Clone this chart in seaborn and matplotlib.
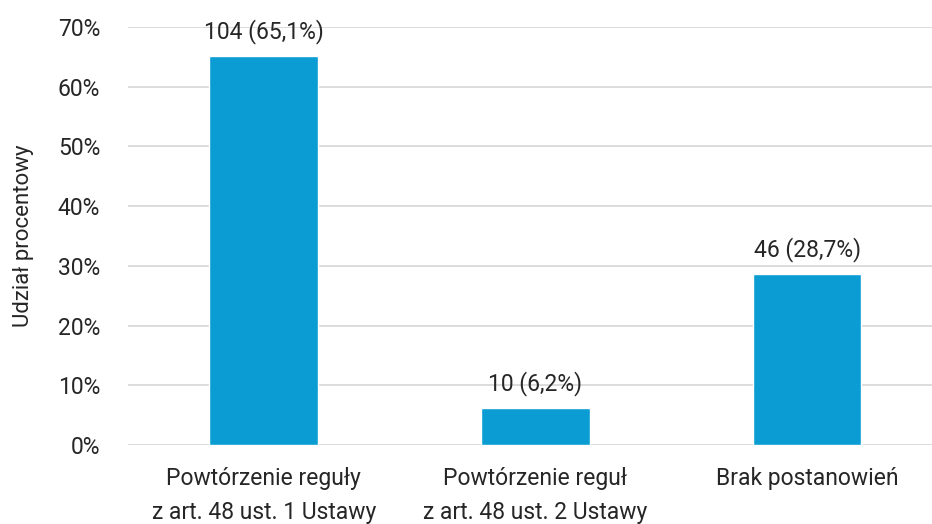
import pandas as pd
import matplotlib
matplotlib.use("Agg")
import matplotlib.pyplot as plt
import matplotlib.ticker as ticker
import seaborn as sns

categories = ["Powtórzenie reguły\nz art. 48 ust. 1 Ustawy",
              "Powtórzenie reguł\nz art. 48 ust. 2 Ustawy",
              "Brak postanowień"]
counts = [104, 10, 46]
shares = [65.1, 6.2, 28.7]

sns.set_theme(style="white")
plt.rcParams['font.family'] = ['Roboto', 'DejaVu Sans']

df = pd.DataFrame({"kategoria": categories, "udzial": shares, "liczba": counts})

fig = plt.figure(figsize=(9.32, 5.24), dpi=100)
ax = fig.add_axes([0.1373, 0.1508, 0.8745, 0.7977])

sns.barplot(data=df, x="kategoria", y="udzial", color="#0c9cd4",
            width=0.4, saturation=1, ax=ax, zorder=3)

for bar, n, s in zip(ax.patches, counts, shares):
    lbl = f"{n} ({s:.1f}%)".replace(".", ",")
    ax.text(bar.get_x() + bar.get_width() / 2, bar.get_height() + 2.0, lbl,
            ha="center", va="bottom", fontsize=16.5, color="#262626")

ax.set_ylim(0, 70)
ax.yaxis.set_major_locator(ticker.MultipleLocator(10))
ax.yaxis.set_major_formatter(ticker.FuncFormatter(lambda v, _: f"{int(v)}%"))
ax.grid(axis="y", color="#d9d9d9", linewidth=1.3, zorder=0)
ax.set_axisbelow(True)
for sp in ax.spines.values():
    sp.set_visible(False)

ax.tick_params(axis="y", length=0, pad=20, labelsize=16.5, labelcolor="#262626")
ax.tick_params(axis="x", length=0, pad=16, labelsize=16.5, labelcolor="#262626")
for t in ax.get_xticklabels():
    t.set_linespacing(1.6)
ax.set_xlabel("")
ax.set_ylabel("Udział procentowy", fontsize=16, color="#262626", labelpad=17)

fig.savefig("out.png", dpi=100)
